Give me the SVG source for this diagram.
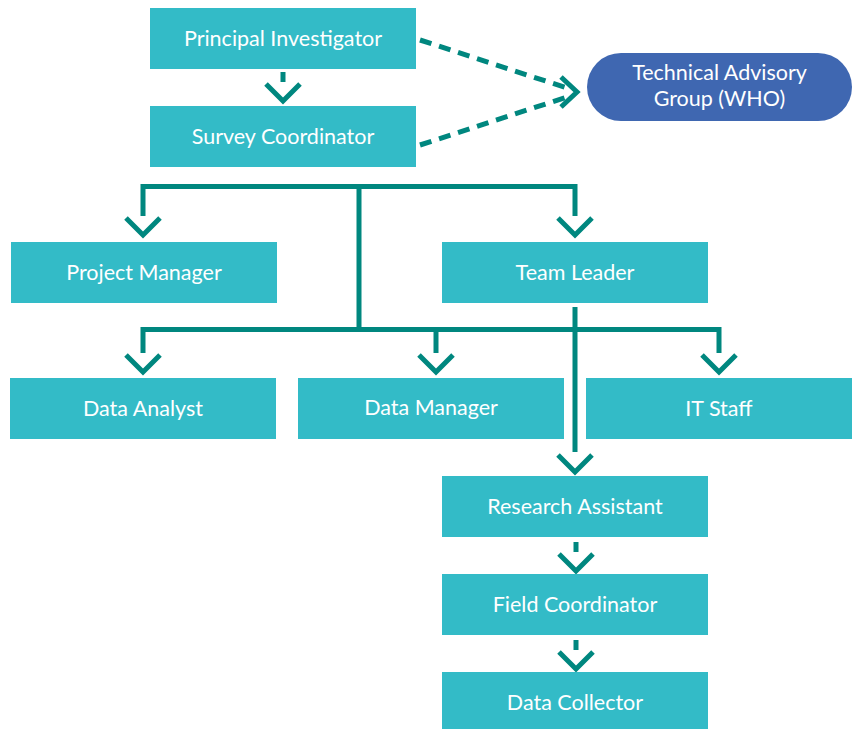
<svg xmlns="http://www.w3.org/2000/svg" width="855" height="729" viewBox="0 0 855 729">
<style>
.box{fill:#33BBC7}
.pill{fill:#3F67B1}
.t{font-family:Lato,"Open Sans","Liberation Sans",sans-serif;font-size:21.5px;fill:#FFFFFF;text-anchor:middle}
.c{fill:none;stroke:#00877F;stroke-width:5}
.d{fill:none;stroke:#00877F;stroke-width:5;stroke-dasharray:12 8}
</style>
<rect width="855" height="729" fill="#FFFFFF"/>
<g id="connectors">
<line class="c" x1="283" y1="72" x2="283" y2="82"/>
<polyline class="c" points="266,84 283,101 300,84"/>
<path class="d" d="M420,40 L570,89"/>
<path class="d" d="M420,145 L570,96"/>
<polyline class="c" points="561,77 577,92 561,107"/>
<path class="c" d="M143,216 V186.5 H575 V216"/>
<polyline class="c" points="126,218 143,235 160,218"/>
<polyline class="c" points="558,218 575,235 592,218"/>
<line class="c" x1="359" y1="186" x2="359" y2="329"/>
<path class="c" d="M143,353 V329.5 H719 V353"/>
<line class="c" x1="436" y1="329" x2="436" y2="353"/>
<polyline class="c" points="126,355 143,372 160,355"/>
<polyline class="c" points="419,355 436,372 453,355"/>
<polyline class="c" points="702,355 719,372 736,355"/>
<line class="c" x1="575" y1="307" x2="575" y2="452"/>
<polyline class="c" points="558,455 575,472 592,455"/>
<line class="c" x1="576" y1="542" x2="576" y2="552"/>
<polyline class="c" points="559,554 576,571 593,554"/>
<line class="c" x1="576" y1="640" x2="576" y2="650"/>
<polyline class="c" points="559,652 576,669 593,652"/>
</g>
<g id="principal-investigator"><rect class="box" x="150" y="8" width="266" height="61"/><text class="t" x="283" y="45.5">Principal Investigator</text></g>
<g id="survey-coordinator"><rect class="box" x="150" y="106" width="266" height="61"/><text class="t" x="283" y="143.5">Survey Coordinator</text></g>
<g id="technical-advisory-group"><rect class="pill" x="587" y="53" width="265" height="68" rx="34" ry="34"/><text class="t" x="719.5" y="80">Technical Advisory</text><text class="t" x="719.5" y="105.5">Group (WHO)</text></g>
<g id="project-manager"><rect class="box" x="11" y="242" width="266" height="61"/><text class="t" x="144" y="279.5">Project Manager</text></g>
<g id="team-leader"><rect class="box" x="442" y="242" width="266" height="61"/><text class="t" x="575" y="279.5">Team Leader</text></g>
<g id="data-analyst"><rect class="box" x="10" y="378" width="266" height="61"/><text class="t" x="143" y="415.5">Data Analyst</text></g>
<g id="data-manager"><rect class="box" x="298" y="378" width="266" height="61"/><text class="t" x="431" y="414.5">Data Manager</text></g>
<g id="it-staff"><rect class="box" x="586" y="378" width="266" height="61"/><text class="t" x="719" y="415.5">IT Staff</text></g>
<g id="research-assistant"><rect class="box" x="442" y="476" width="266" height="61"/><text class="t" x="575" y="513.5">Research Assistant</text></g>
<g id="field-coordinator"><rect class="box" x="442" y="574" width="266" height="61"/><text class="t" x="575" y="611.5">Field Coordinator</text></g>
<g id="data-collector"><rect class="box" x="442" y="672" width="266" height="61"/><text class="t" x="575" y="709.5">Data Collector</text></g>
</svg>
